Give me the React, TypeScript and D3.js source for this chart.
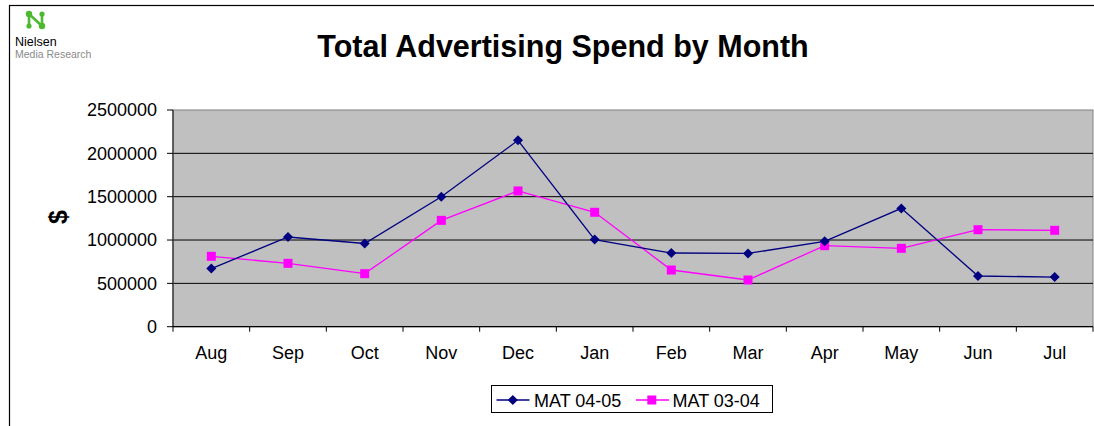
import React from "react";
import * as d3 from "d3";

const months = ["Aug", "Sep", "Oct", "Nov", "Dec", "Jan", "Feb", "Mar", "Apr", "May", "Jun", "Jul"];
const mat0405 = [670000, 1035000, 960000, 1500000, 2150000, 1005000, 850000, 845000, 985000, 1365000, 585000, 573000];
const mat0304 = [812000, 731000, 612000, 1227000, 1566000, 1320000, 654000, 539000, 935000, 904000, 1119000, 1112000];
const yTicks = [0, 500000, 1000000, 1500000, 2000000, 2500000];
const seriesNames = ["MAT 04-05", "MAT 03-04"];

const W = 1094;
const H = 426;
const plot = { left: 173, right: 1093, top: 110, bottom: 326.7 };
const FONT = "'Liberation Sans', Arial, sans-serif";
const NAVY = "#000080";
const PINK = "#FF00FF";

export default function App() {
  const x = d3.scaleBand<string>().domain(months).range([plot.left, plot.right]).padding(0);
  const y = d3.scaleLinear().domain([0, 2500000]).range([plot.bottom, plot.top]);
  const cx = (m: string) => (x(m) as number) + x.bandwidth() / 2;
  const line = d3
    .line<number>()
    .x((_, i) => cx(months[i]))
    .y((v) => y(v));

  const diamond = (px: number, py: number, r = 5) =>
    `M${px},${py - r}L${px + r},${py}L${px},${py + r}L${px - r},${py}Z`;

  return (
    <div style={{ position: "absolute", left: 0, top: 0 }}>
      <svg width={W} height={H} style={{ display: "block", fontFamily: FONT }}>
        <rect x={0} y={0} width={W} height={H} fill="#fff" />
        {/* outer frame */}
        <rect x={9.5} y={5.5} width={W + 20} height={H + 20} fill="none" stroke="#000" strokeWidth={1.2} />

        {/* logo */}
        <g stroke="#4cb92e" strokeWidth={2.6} fill="#4cb92e">
          <line x1={29} y1={14} x2={29} y2={26} />
          <line x1={29} y1={14} x2={42} y2={26} />
          <line x1={42} y1={14} x2={42} y2={26} />
          <circle cx={29} cy={14} r={3.2} stroke="none" />
          <circle cx={42} cy={14} r={2.6} stroke="none" />
          <circle cx={29} cy={26} r={2.6} stroke="none" />
          <circle cx={42} cy={26} r={3.2} stroke="none" />
        </g>
        <text x={15} y={46} fontSize={12.5} fill="#000">Nielsen</text>
        <text x={15} y={57.5} fontSize={10.5} fill="#8a8a8a">Media Research</text>

        {/* title */}
        <text x={563} y={56.5} fontSize={30.5} fontWeight="bold" textAnchor="middle" fill="#000">
          Total Advertising Spend by Month
        </text>

        {/* plot area */}
        <rect
          x={plot.left}
          y={plot.top}
          width={plot.right - plot.left}
          height={plot.bottom - plot.top}
          fill="#c0c0c0"
          stroke="#808080"
          strokeWidth={1}
        />
        {yTicks.slice(1, -1).map((t) => (
          <line key={t} x1={plot.left} x2={plot.right} y1={y(t)} y2={y(t)} stroke="#000" strokeWidth={1} />
        ))}
        {/* axes */}
        <line x1={plot.left} x2={plot.left} y1={plot.top} y2={plot.bottom} stroke="#404040" strokeWidth={1.5} />
        <line x1={plot.left} x2={plot.right} y1={plot.bottom} y2={plot.bottom} stroke="#000" strokeWidth={1.2} />
        {yTicks.map((t) => (
          <g key={t}>
            <line x1={plot.left - 6} x2={plot.left} y1={y(t)} y2={y(t)} stroke="#000" strokeWidth={1} />
            <text x={157} y={y(t)} dy="0.35em" fontSize={18} textAnchor="end" fill="#000">
              {t}
            </text>
          </g>
        ))}
        {months.map((m, i) => (
          <g key={m}>
            <line
              x1={(x(m) as number) + x.bandwidth()}
              x2={(x(m) as number) + x.bandwidth()}
              y1={plot.bottom}
              y2={plot.bottom + 5}
              stroke="#000"
              strokeWidth={1}
            />
            {i === 0 && (
              <line x1={plot.left} x2={plot.left} y1={plot.bottom} y2={plot.bottom + 5} stroke="#000" strokeWidth={1} />
            )}
            <text x={cx(m)} y={359} fontSize={18} textAnchor="middle" fill="#000">
              {m}
            </text>
          </g>
        ))}

        {/* y axis title */}
        <text
          transform={`translate(67,217) rotate(-90)`}
          fontSize={25}
          fontWeight="bold"
          textAnchor="middle"
          fill="#000"
        >
          $
        </text>

        {/* series */}
        <path d={line(mat0304) as string} fill="none" stroke={PINK} strokeWidth={1.3} />
        <path d={line(mat0405) as string} fill="none" stroke={NAVY} strokeWidth={1.3} />
        {mat0304.map((v, i) => (
          <rect key={"p" + i} x={cx(months[i]) - 4.5} y={y(v) - 4.5} width={9} height={9} fill={PINK} />
        ))}
        {mat0405.map((v, i) => (
          <path key={"b" + i} d={diamond(cx(months[i]), y(v))} fill={NAVY} />
        ))}

        {/* legend */}
        <rect x={491.5} y={385.5} width={281} height={27} fill="#fff" stroke="#000" strokeWidth={1} />
        <line x1={496.5} x2={529.5} y1={400} y2={400} stroke={NAVY} strokeWidth={1.3} />
        <path d={diamond(512.8, 400)} fill={NAVY} />
        <text x={534} y={406.5} fontSize={18} fill="#000">{seriesNames[0]}</text>
        <line x1={636} x2={669} y1={400} y2={400} stroke={PINK} strokeWidth={1.3} />
        <rect x={647.3} y={395.5} width={9} height={9} fill={PINK} />
        <text x={672.5} y={406.5} fontSize={18} fill="#000">{seriesNames[1]}</text>
      </svg>
    </div>
  );
}
